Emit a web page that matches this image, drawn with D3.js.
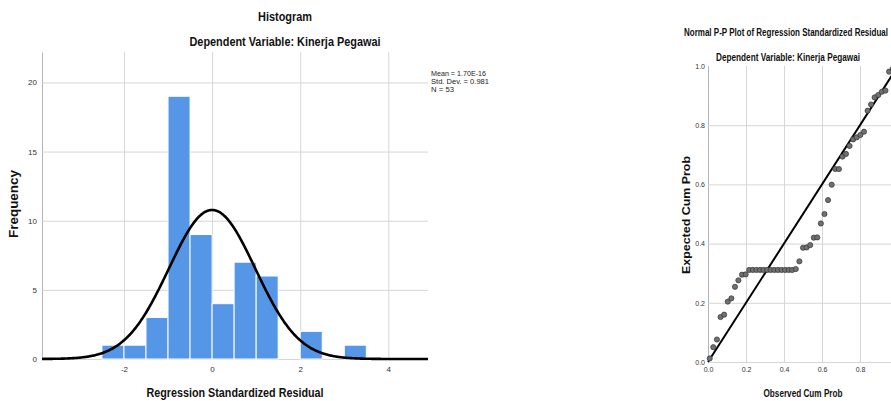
<!DOCTYPE html>
<html>
<head>
    <title>Residual charts</title>
    <style>
        body { margin: 0; background: #fff; }
        text { font-family: "Liberation Sans", Arial, sans-serif; }
    </style>
</head>
<body>
<svg id="chart" width="891" height="401"></svg>

<script src="https://d3js.org/d3.v7.min.js"></script>
<script type="text/javascript">

// histogram bins (lower edge, width 0.5) and counts
const binLow = [-2.5, -2, -1.5, -1, -0.5, 0, 0.5, 1, 2, 3];
const binCount = [1, 1, 3, 19, 9, 4, 7, 6, 2, 1];
const binWidth = 0.5;

// summary stats shown in the legend
const resMean = 1.70e-16;
const resSd = 0.981;
const resN = 53;
const legendLines = ['Mean = 1.70E-16', 'Std. Dev. = 0.981', 'N = 53'];

const histYTicks = [0, 5, 10, 15, 20];
const histXTicks = [-2, 0, 2, 4];

// P-P plot: observed vs expected cumulative probability
const observedCum = [
    0.009, 0.028, 0.047, 0.066, 0.085, 0.104, 0.123, 0.142, 0.160, 0.179,
    0.198, 0.217, 0.236, 0.255, 0.274, 0.292, 0.311, 0.330, 0.349, 0.368,
    0.387, 0.406, 0.425, 0.443, 0.462, 0.481, 0.500, 0.519, 0.538, 0.557,
    0.575, 0.594, 0.613, 0.632, 0.651, 0.670, 0.689, 0.708, 0.726, 0.745,
    0.764, 0.783, 0.802, 0.821, 0.840, 0.858, 0.877, 0.896, 0.915, 0.934,
    0.953, 0.972, 0.991
];
const expectedCum = [
    0.012, 0.050, 0.076, 0.152, 0.160, 0.204, 0.215, 0.254, 0.276, 0.295,
    0.296, 0.311, 0.311, 0.311, 0.311, 0.311, 0.311, 0.311, 0.311, 0.311,
    0.311, 0.311, 0.311, 0.311, 0.314, 0.340, 0.386, 0.387, 0.395, 0.420,
    0.421, 0.468, 0.500, 0.547, 0.599, 0.652, 0.652, 0.694, 0.703, 0.730,
    0.752, 0.759, 0.767, 0.778, 0.849, 0.870, 0.894, 0.902, 0.913, 0.917,
    0.981, 0.990, 0.998
];
const ppTicks = [0, 0.2, 0.4, 0.6, 0.8, 1.0];

const svg = d3.select('#chart');

function styleAxis(g, fontSize) {
    g.selectAll('.domain').attr('stroke', '#b4b4b4');
    g.selectAll('.tick line').attr('stroke', '#d6d6d6');
    g.selectAll('.tick text')
        .attr('fill', '#333')
        .style('font-size', fontSize + 'px');
}

function label(x, y, str, size, weight, len, rotate) {
    const t = svg.append('text')
        .attr('x', x)
        .attr('y', y)
        .attr('text-anchor', 'middle')
        .style('font-size', size + 'px')
        .style('font-weight', weight)
        .attr('fill', '#111')
        .text(str);
    if (len) t.attr('textLength', len).attr('lengthAdjust', 'spacingAndGlyphs');
    if (rotate) t.attr('transform', `rotate(-90, ${x}, ${y})`);
    return t;
}

function drawHistogram() {
    const x = d3.scaleLinear().domain([-3.86, 4.9]).range([42, 428]);
    const y = d3.scaleLinear().domain([0, 22.2]).range([359, 52]);

    svg.append('g')
        .attr('transform', 'translate(0, 359)')
        .call(d3.axisBottom(x).tickValues(histXTicks).tickFormat(d => String(d))
            .tickSize(-307).tickSizeOuter(0).tickPadding(7))
        .call(g => styleAxis(g, 8))
        .call(g => g.select('.domain').remove());

    svg.append('g')
        .attr('transform', 'translate(42, 0)')
        .call(d3.axisLeft(y).tickValues(histYTicks).tickFormat(d => String(d))
            .tickSize(-386).tickSizeOuter(0).tickPadding(5))
        .call(g => styleAxis(g, 8));

    const bins = binLow.map((lo, i) => ({ lo: lo, count: binCount[i] }));
    svg.append('g')
        .selectAll('rect')
        .data(bins)
        .join('rect')
            .attr('x', d => x(d.lo))
            .attr('y', d => y(d.count))
            .attr('width', d => x(d.lo + binWidth) - x(d.lo))
            .attr('height', d => y(0) - y(d.count))
            .attr('fill', '#5596e6')
            .attr('stroke', '#ffffff')
            .attr('stroke-width', 1);

    // fitted normal curve, scaled to counts
    const scale = resN * binWidth / (resSd * Math.sqrt(2 * Math.PI));
    const xs = d3.range(-3.86, 4.9, 0.02).concat([4.9]);
    const curve = xs.map(v => [v, scale * Math.exp(-0.5 * Math.pow((v - resMean) / resSd, 2))]);
    svg.append('path')
        .datum(curve)
        .attr('fill', 'none')
        .attr('stroke', '#000')
        .attr('stroke-width', 2.6)
        .attr('d', d3.line().x(d => x(d[0])).y(d => y(d[1])));

    svg.append('g')
        .selectAll('text')
        .data(legendLines)
        .join('text')
            .attr('x', 431)
            .attr('y', (d, i) => 76 + i * 8)
            .style('font-size', '7px')
            .attr('fill', '#222')
            .attr('textLength', (d, i) => [55, 58, 23][i])
            .attr('lengthAdjust', 'spacingAndGlyphs')
            .text(d => d);

    label(285, 21, 'Histogram', 12, 'bold', 54);
    label(285, 46, 'Dependent Variable: Kinerja Pegawai', 12, 'bold', 191);
    label(235, 397, 'Regression Standardized Residual', 12, 'bold', 177);
    label(18, 204, 'Frequency', 12, 'bold', 68, true);
}

function drawPP() {
    const x = d3.scaleLinear().domain([0, 1]).range([708, 898]);
    const y = d3.scaleLinear().domain([0, 1]).range([362, 66]);

    svg.append('g')
        .attr('transform', 'translate(0, 362)')
        .call(d3.axisBottom(x).tickValues(ppTicks).tickFormat(d3.format('.1f'))
            .tickSize(-296).tickSizeOuter(0).tickPadding(5))
        .call(g => styleAxis(g, 7));

    svg.append('g')
        .attr('transform', 'translate(708, 0)')
        .call(d3.axisLeft(y).tickValues(ppTicks).tickFormat(d3.format('.1f'))
            .tickSize(-190).tickSizeOuter(0).tickPadding(3))
        .call(g => styleAxis(g, 7))
        .call(g => g.selectAll('.tick:last-of-type line').remove());

    svg.append('line')
        .attr('x1', x(0)).attr('y1', y(0))
        .attr('x2', x(1)).attr('y2', y(1))
        .attr('stroke', '#000')
        .attr('stroke-width', 2);

    const pts = observedCum.map((o, i) => ({ o: o, e: expectedCum[i] }));
    svg.append('g')
        .selectAll('circle')
        .data(pts)
        .join('circle')
            .attr('cx', d => x(d.o))
            .attr('cy', d => y(d.e))
            .attr('r', 2.6)
            .attr('fill', '#707070')
            .attr('stroke', '#333')
            .attr('stroke-width', 0.7);

    label(786, 36, 'Normal P-P Plot of Regression Standardized Residual', 10, 'bold', 204);
    label(788, 61, 'Dependent Variable: Kinerja Pegawai', 10, 'bold', 144);
    label(803, 397, 'Observed Cum Prob', 10, 'bold', 79);
    label(690, 215, 'Expected Cum Prob', 11, 'bold', 118, true);
}

drawHistogram();
drawPP();

</script>
</body>
</html>
